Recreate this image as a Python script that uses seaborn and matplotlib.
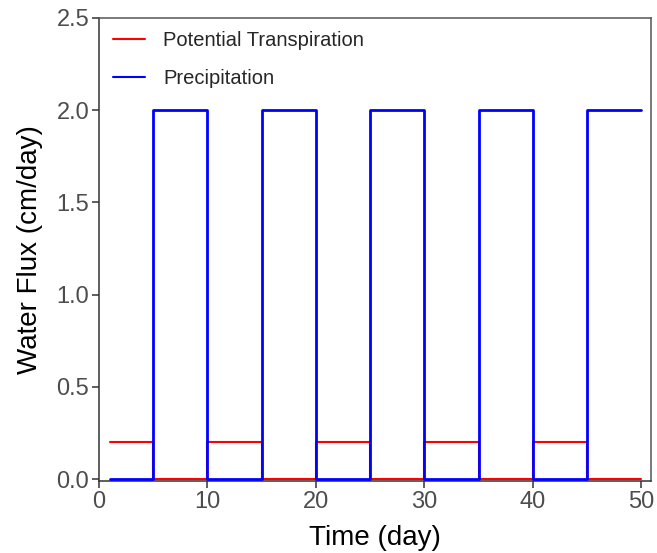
import matplotlib
matplotlib.use("Agg")
import matplotlib.pyplot as plt
import seaborn as sns
import pandas as pd

# Daily fluxes (cm/day), value at each day holds until the next day
days = list(range(1, 51))
potential_transpiration = [
    0.2, 0.2, 0.2, 0.2, 0.0, 0.0, 0.0, 0.0, 0.0, 0.2,
    0.2, 0.2, 0.2, 0.2, 0.0, 0.0, 0.0, 0.0, 0.0, 0.2,
    0.2, 0.2, 0.2, 0.2, 0.0, 0.0, 0.0, 0.0, 0.0, 0.2,
    0.2, 0.2, 0.2, 0.2, 0.0, 0.0, 0.0, 0.0, 0.0, 0.2,
    0.2, 0.2, 0.2, 0.2, 0.0, 0.0, 0.0, 0.0, 0.0, 0.0,
]
precipitation = [
    0.0, 0.0, 0.0, 0.0, 2.0, 2.0, 2.0, 2.0, 2.0, 0.0,
    0.0, 0.0, 0.0, 0.0, 2.0, 2.0, 2.0, 2.0, 2.0, 0.0,
    0.0, 0.0, 0.0, 0.0, 2.0, 2.0, 2.0, 2.0, 2.0, 0.0,
    0.0, 0.0, 0.0, 0.0, 2.0, 2.0, 2.0, 2.0, 2.0, 0.0,
    0.0, 0.0, 0.0, 0.0, 2.0, 2.0, 2.0, 2.0, 2.0, 2.0,
]
series_names = ["Potential Transpiration", "Precipitation"]
series_colors = ["#FF0000", "#0000FF"]
x_ticks = [0, 10, 20, 30, 40, 50]
y_ticks = [0.0, 0.5, 1.0, 1.5, 2.0, 2.5]

df = pd.concat([
    pd.DataFrame({"day": days, "flux": potential_transpiration, "series": series_names[0]}),
    pd.DataFrame({"day": days, "flux": precipitation, "series": series_names[1]}),
])

sns.set_theme(style="white")
plt.rcParams["font.family"] = ["Liberation Sans", "DejaVu Sans"]

fig = plt.figure(figsize=(6.57, 5.53), dpi=100)
ax = fig.add_axes([99 / 657, 72 / 553, (651 - 99) / 657, (481 - 18) / 553])

for name, color, lw, z in zip(series_names, series_colors, [1.5, 2.0], [3, 4]):
    sns.lineplot(data=df[df["series"] == name], x="day", y="flux",
                 color=color, linewidth=lw, drawstyle="steps-post",
                 label=name, ax=ax, zorder=z, clip_on=False)

ax.set_xlim(0, 50.9)
ax.set_ylim(-0.01, 2.5)
ax.set_xticks(x_ticks)
ax.set_xticklabels([f"{t:g}" for t in x_ticks])
ax.set_yticks(y_ticks)
ax.set_yticklabels([f"{t:.1f}" for t in y_ticks])

ax.set_xlabel("Time (day)", fontsize=20, color="black", labelpad=9)
ax.set_ylabel("Water Flux (cm/day)", fontsize=20, color="black", labelpad=10)
ax.tick_params(axis="both", which="both", direction="out", length=5, width=1.1,
               color="#333333", labelsize=17, labelcolor="#4D4D4D", pad=2,
               bottom=True, left=True)

for side in ["left", "bottom"]:
    ax.spines[side].set_color("#333333")
    ax.spines[side].set_linewidth(1.1)
for side in ["top", "right"]:
    ax.spines[side].set_color("#555555")
    ax.spines[side].set_linewidth(1.1)

leg = ax.legend(loc="upper left", frameon=False, fontsize=14.5,
                handlelength=1.6, handletextpad=0.9, labelspacing=0.95,
                borderaxespad=0.0, bbox_to_anchor=(0.01, 0.99))
for line in leg.get_lines():
    line.set_linewidth(1.5)

fig.savefig("out.png", dpi=100)
